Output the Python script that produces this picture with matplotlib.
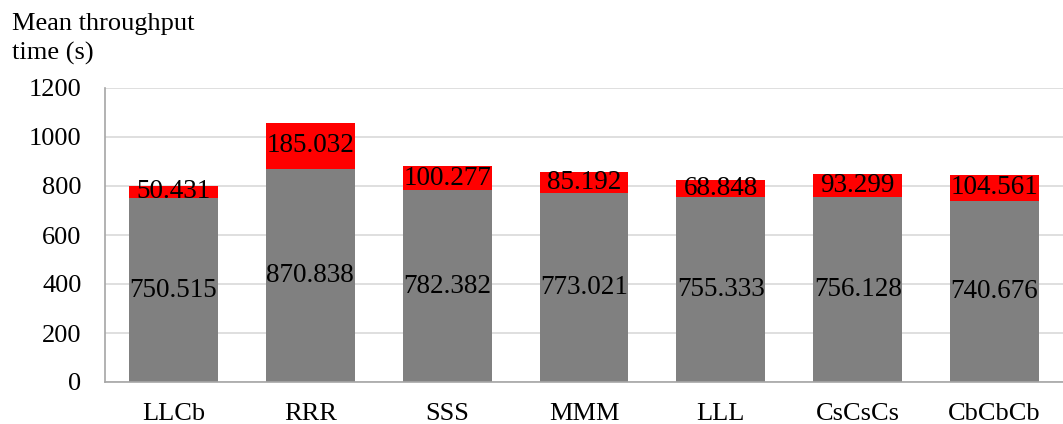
import matplotlib.pyplot as plt

plt.rcParams['font.family'] = ['Liberation Serif', 'DejaVu Serif']

categories = ["LLCb", "RRR", "SSS", "MMM", "LLL", "CsCsCs", "CbCbCb"]
base_times = [750.515, 870.838, 782.382, 773.021, 755.333, 756.128, 740.676]
extra_times = [50.431, 185.032, 100.277, 85.192, 68.848, 93.299, 104.561]

fig = plt.figure(figsize=(10.63, 4.24), dpi=100)
ax = fig.add_axes([105 / 1063, 1 - 382 / 424, 958 / 1063, 294 / 424])

x = range(len(categories))
gray_bars = ax.bar(x, base_times, width=0.65, color="#808080", zorder=2)
red_bars = ax.bar(x, extra_times, width=0.65, bottom=base_times, color="#ff0000", zorder=2)

# value labels centred inside each segment
ax.bar_label(gray_bars, labels=[f"{v:.3f}" for v in base_times], label_type="center", fontsize=19.5)
ax.bar_label(red_bars, labels=[f"{v:.3f}" for v in extra_times], label_type="center", fontsize=19.5)

ax.set_ylim(0, 1200)
ax.set_xlim(-0.5, len(categories) - 0.5)
ax.set_yticks(range(0, 1201, 200))
ax.set_xticks(list(x))
ax.set_xticklabels(categories)
ax.tick_params(axis="both", length=0, labelsize=19)
ax.tick_params(axis="y", pad=17)
ax.tick_params(axis="x", pad=15)

ax.grid(axis="y", color="#d9d9d9", linewidth=1.2, zorder=0)
for side in ["top", "right"]:
    ax.spines[side].set_visible(False)
for side in ["left", "bottom"]:
    ax.spines[side].set_color("#a6a6a6")
    ax.spines[side].set_linewidth(1.2)

# axis title, two lines in the top-left corner
fig.text(12 / 1063, 1 - 30 / 424, "Mean throughput", fontsize=19, va="baseline", ha="left")
fig.text(12 / 1063, 1 - 60 / 424, "time (s)", fontsize=19, va="baseline", ha="left")

fig.savefig("out.png", dpi=100)
